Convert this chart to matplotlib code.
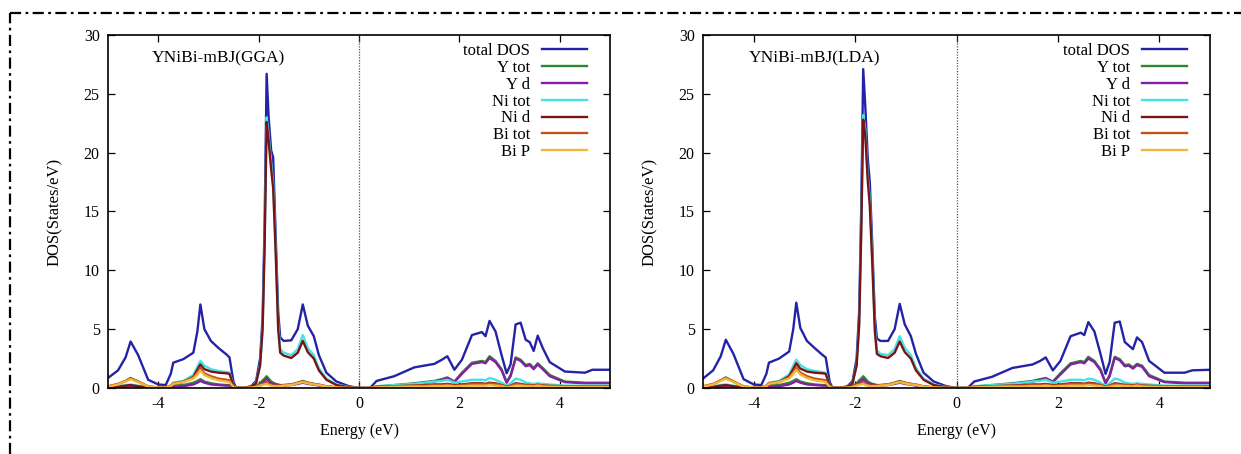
import numpy as np
import matplotlib.pyplot as plt
from matplotlib.lines import Line2D

plt.rcParams['font.family'] = ['Liberation Serif', 'DejaVu Serif']
plt.rcParams['axes.unicode_minus'] = False

# energy grid shared by every curve (eV, Fermi level at 0)
energy = [-5.00, -4.80, -4.65, -4.55, -4.40, -4.20, -4.00, -3.85, -3.75, -3.70,
          -3.50, -3.30, -3.22, -3.16, -3.08, -2.95, -2.80, -2.64, -2.58, -2.50,
          -2.45, -2.30, -2.15, -2.05, -1.97, -1.92, -1.88, -1.84, -1.80, -1.75,
          -1.71, -1.66, -1.61, -1.57, -1.50, -1.35, -1.22, -1.12, -1.02, -0.90,
          -0.80, -0.65, -0.45, -0.20, 0.00, 0.22, 0.35, 0.70, 1.10, 1.30,
          1.50, 1.65, 1.76, 1.90, 2.05, 2.25, 2.45, 2.52, 2.60, 2.72,
          2.84, 2.94, 3.02, 3.12, 3.22, 3.32, 3.40, 3.48, 3.56, 3.66,
          3.80, 4.10, 4.50, 4.65, 5.00]

# ---- mBJ(GGA) ----
gga_total = [0.85, 1.5, 2.6, 3.95, 2.8, 0.7, 0.3, 0.25, 1.2, 2.15,
             2.45, 3.0, 4.8, 7.1, 5.0, 4.0, 3.4, 2.85, 2.6, 0.5,
             0.05, 0.0, 0.15, 0.6, 2.5, 6.0, 14.0, 26.7, 23.0, 20.2,
             19.6, 13.0, 6.5, 4.3, 4.0, 4.05, 5.0, 7.1, 5.3, 4.4,
             2.8, 1.3, 0.55, 0.15, 0.0, 0.0, 0.6, 1.0, 1.75, 1.9,
             2.05, 2.4, 2.7, 1.55, 2.4, 4.5, 4.75, 4.4, 5.7, 4.8,
             2.8, 1.25, 2.0, 5.4, 5.55, 4.1, 3.9, 3.15, 4.45, 3.4,
             2.2, 1.4, 1.3, 1.55, 1.55]
gga_y_tot = [0.1, 0.3, 0.6, 0.85, 0.55, 0.1, 0.03, 0.03, 0.1, 0.2,
             0.25, 0.45, 0.6, 0.75, 0.55, 0.4, 0.3, 0.25, 0.25, 0.05,
             0.02, 0.0, 0.05, 0.15, 0.4, 0.65, 0.8, 1.0, 0.8, 0.55,
             0.45, 0.35, 0.3, 0.25, 0.25, 0.3, 0.45, 0.6, 0.45, 0.35,
             0.25, 0.12, 0.05, 0.02, 0.0, 0.0, 0.12, 0.25, 0.4, 0.5,
             0.6, 0.75, 0.9, 0.55, 1.3, 2.15, 2.3, 2.2, 2.7, 2.3,
             1.6, 0.5, 1.1, 2.6, 2.4, 1.95, 2.05, 1.7, 2.1, 1.7,
             1.1, 0.55, 0.45, 0.45, 0.45]
gga_y_d = [0.02, 0.05, 0.1, 0.15, 0.1, 0.02, 0.01, 0.01, 0.05, 0.1,
           0.15, 0.3, 0.45, 0.6, 0.45, 0.3, 0.25, 0.2, 0.2, 0.05,
           0.01, 0.0, 0.03, 0.1, 0.3, 0.45, 0.6, 0.8, 0.6, 0.4,
           0.35, 0.3, 0.25, 0.2, 0.2, 0.25, 0.35, 0.45, 0.35, 0.28,
           0.2, 0.1, 0.05, 0.01, 0.0, 0.0, 0.1, 0.2, 0.35, 0.45,
           0.55, 0.7, 0.85, 0.5, 1.2, 2.05, 2.2, 2.1, 2.55, 2.2,
           1.5, 0.45, 1.0, 2.5, 2.3, 1.85, 1.95, 1.6, 2.0, 1.6,
           1.0, 0.5, 0.4, 0.4, 0.4]
gga_ni_tot = [0.1, 0.15, 0.25, 0.3, 0.2, 0.05, 0.02, 0.02, 0.2, 0.45,
              0.6, 1.1, 1.8, 2.3, 1.9, 1.6, 1.45, 1.35, 1.3, 0.25,
              0.02, 0.0, 0.1, 0.45, 2.0, 5.2, 12.5, 23.0, 21.5, 19.0,
              17.5, 12.0, 5.5, 3.3, 3.0, 2.8, 3.3, 4.5, 3.4, 2.8,
              1.7, 0.8, 0.3, 0.08, 0.0, 0.0, 0.15, 0.25, 0.35, 0.45,
              0.55, 0.6, 0.7, 0.45, 0.55, 0.7, 0.7, 0.65, 0.85, 0.7,
              0.45, 0.2, 0.4, 0.8, 0.7, 0.45, 0.4, 0.35, 0.4, 0.35,
              0.3, 0.2, 0.2, 0.2, 0.2]
gga_ni_d = [0.05, 0.1, 0.2, 0.25, 0.15, 0.03, 0.01, 0.01, 0.1, 0.35,
            0.5, 0.95, 1.55, 2.0, 1.6, 1.4, 1.3, 1.25, 1.2, 0.2,
            0.02, 0.0, 0.1, 0.4, 1.9, 5.0, 12.0, 22.6, 21.0, 18.6,
            17.0, 11.5, 5.0, 3.0, 2.75, 2.55, 3.0, 4.0, 3.05, 2.5,
            1.5, 0.7, 0.25, 0.06, 0.0, 0.0, 0.1, 0.15, 0.2, 0.25,
            0.3, 0.3, 0.35, 0.25, 0.3, 0.4, 0.4, 0.35, 0.45, 0.4,
            0.25, 0.1, 0.2, 0.4, 0.35, 0.25, 0.25, 0.2, 0.25, 0.2,
            0.15, 0.1, 0.1, 0.1, 0.1]
gga_bi_tot = [0.15, 0.35, 0.6, 0.8, 0.55, 0.15, 0.05, 0.05, 0.2, 0.4,
              0.55, 0.9, 1.3, 1.7, 1.25, 1.0, 0.8, 0.7, 0.65, 0.1,
              0.02, 0.0, 0.05, 0.1, 0.25, 0.35, 0.4, 0.5, 0.35, 0.25,
              0.2, 0.2, 0.2, 0.2, 0.25, 0.3, 0.45, 0.55, 0.45, 0.35,
              0.3, 0.15, 0.06, 0.02, 0.0, 0.0, 0.1, 0.15, 0.2, 0.2,
              0.25, 0.25, 0.3, 0.2, 0.25, 0.35, 0.35, 0.3, 0.4, 0.35,
              0.25, 0.1, 0.2, 0.35, 0.3, 0.25, 0.25, 0.2, 0.3, 0.2,
              0.2, 0.15, 0.15, 0.15, 0.15]
gga_bi_p = [0.1, 0.3, 0.55, 0.75, 0.5, 0.12, 0.04, 0.04, 0.15, 0.35,
            0.5, 0.8, 1.15, 1.5, 1.1, 0.85, 0.65, 0.55, 0.5, 0.08,
            0.01, 0.0, 0.03, 0.08, 0.2, 0.25, 0.3, 0.35, 0.25, 0.2,
            0.15, 0.15, 0.15, 0.15, 0.2, 0.25, 0.4, 0.5, 0.4, 0.3,
            0.25, 0.12, 0.05, 0.01, 0.0, 0.0, 0.05, 0.1, 0.12, 0.12,
            0.15, 0.15, 0.2, 0.12, 0.15, 0.2, 0.2, 0.2, 0.25, 0.2,
            0.15, 0.05, 0.1, 0.2, 0.2, 0.15, 0.15, 0.12, 0.2, 0.12,
            0.1, 0.08, 0.08, 0.08, 0.08]

# ---- mBJ(LDA) ----
lda_total = [0.8, 1.5, 2.7, 4.1, 2.9, 0.75, 0.3, 0.25, 1.2, 2.15,
             2.5, 3.1, 5.0, 7.25, 5.1, 4.0, 3.4, 2.8, 2.6, 0.5,
             0.05, 0.0, 0.15, 0.6, 2.5, 6.5, 15.0, 27.1, 24.0, 19.5,
             17.5, 12.0, 6.0, 4.2, 4.0, 4.0, 5.0, 7.15, 5.4, 4.4,
             2.9, 1.3, 0.55, 0.15, 0.0, 0.0, 0.55, 0.95, 1.7, 1.85,
             2.0, 2.3, 2.6, 1.5, 2.3, 4.4, 4.7, 4.5, 5.6, 4.8,
             2.9, 1.2, 2.2, 5.55, 5.65, 3.9, 3.6, 3.3, 4.3, 3.9,
             2.3, 1.3, 1.3, 1.5, 1.55]
lda_y_tot = [0.1, 0.3, 0.65, 0.9, 0.55, 0.1, 0.03, 0.03, 0.1, 0.2,
             0.25, 0.45, 0.6, 0.75, 0.55, 0.4, 0.3, 0.25, 0.25, 0.05,
             0.02, 0.0, 0.05, 0.15, 0.4, 0.65, 0.8, 1.0, 0.8, 0.55,
             0.45, 0.35, 0.3, 0.25, 0.25, 0.3, 0.45, 0.6, 0.45, 0.35,
             0.25, 0.12, 0.05, 0.02, 0.0, 0.0, 0.12, 0.25, 0.4, 0.5,
             0.6, 0.75, 0.85, 0.55, 1.25, 2.1, 2.3, 2.2, 2.65, 2.3,
             1.6, 0.45, 1.1, 2.65, 2.45, 1.95, 2.0, 1.75, 2.05, 1.9,
             1.1, 0.55, 0.45, 0.45, 0.45]
lda_y_d = [0.02, 0.05, 0.1, 0.15, 0.1, 0.02, 0.01, 0.01, 0.05, 0.1,
           0.15, 0.3, 0.45, 0.6, 0.45, 0.3, 0.25, 0.2, 0.2, 0.05,
           0.01, 0.0, 0.03, 0.1, 0.3, 0.45, 0.6, 0.75, 0.6, 0.4,
           0.35, 0.3, 0.25, 0.2, 0.2, 0.25, 0.35, 0.45, 0.35, 0.28,
           0.2, 0.1, 0.05, 0.01, 0.0, 0.0, 0.1, 0.2, 0.35, 0.45,
           0.55, 0.7, 0.8, 0.5, 1.15, 2.0, 2.2, 2.1, 2.5, 2.2,
           1.5, 0.4, 1.0, 2.55, 2.35, 1.85, 1.9, 1.65, 1.95, 1.8,
           1.0, 0.5, 0.4, 0.4, 0.4]
lda_ni_tot = [0.1, 0.15, 0.25, 0.3, 0.2, 0.05, 0.02, 0.02, 0.2, 0.45,
              0.6, 1.15, 1.9, 2.4, 1.95, 1.6, 1.45, 1.35, 1.3, 0.25,
              0.02, 0.0, 0.1, 0.45, 2.0, 5.5, 13.5, 23.2, 22.0, 18.0,
              16.0, 11.0, 5.2, 3.2, 2.9, 2.8, 3.3, 4.4, 3.4, 2.8,
              1.7, 0.8, 0.3, 0.08, 0.0, 0.0, 0.15, 0.25, 0.35, 0.45,
              0.55, 0.6, 0.7, 0.45, 0.55, 0.7, 0.7, 0.65, 0.8, 0.7,
              0.45, 0.2, 0.4, 0.8, 0.7, 0.45, 0.4, 0.35, 0.4, 0.35,
              0.3, 0.2, 0.2, 0.2, 0.2]
lda_ni_d = [0.05, 0.1, 0.2, 0.25, 0.15, 0.03, 0.01, 0.01, 0.1, 0.35,
            0.5, 1.0, 1.6, 2.1, 1.65, 1.4, 1.3, 1.25, 1.2, 0.2,
            0.02, 0.0, 0.1, 0.4, 1.9, 5.3, 13.0, 22.8, 21.5, 17.6,
            15.5, 10.5, 4.8, 2.9, 2.7, 2.55, 3.0, 3.95, 3.05, 2.5,
            1.5, 0.7, 0.25, 0.06, 0.0, 0.0, 0.1, 0.15, 0.2, 0.25,
            0.3, 0.3, 0.35, 0.25, 0.3, 0.4, 0.4, 0.35, 0.45, 0.4,
            0.25, 0.1, 0.2, 0.4, 0.35, 0.25, 0.25, 0.2, 0.25, 0.2,
            0.15, 0.1, 0.1, 0.1, 0.1]
lda_bi_tot = [0.15, 0.35, 0.65, 0.85, 0.55, 0.15, 0.05, 0.05, 0.2, 0.4,
              0.55, 0.9, 1.35, 1.75, 1.3, 1.0, 0.8, 0.7, 0.65, 0.1,
              0.02, 0.0, 0.05, 0.1, 0.25, 0.35, 0.4, 0.5, 0.35, 0.25,
              0.2, 0.2, 0.2, 0.2, 0.25, 0.3, 0.45, 0.55, 0.45, 0.35,
              0.3, 0.15, 0.06, 0.02, 0.0, 0.0, 0.1, 0.15, 0.2, 0.2,
              0.25, 0.25, 0.3, 0.2, 0.25, 0.35, 0.35, 0.3, 0.4, 0.35,
              0.25, 0.1, 0.2, 0.35, 0.3, 0.25, 0.25, 0.2, 0.3, 0.2,
              0.2, 0.15, 0.15, 0.15, 0.15]
lda_bi_p = [0.1, 0.3, 0.6, 0.8, 0.5, 0.12, 0.04, 0.04, 0.15, 0.35,
            0.5, 0.8, 1.2, 1.55, 1.15, 0.85, 0.65, 0.55, 0.5, 0.08,
            0.01, 0.0, 0.03, 0.08, 0.2, 0.25, 0.3, 0.35, 0.25, 0.2,
            0.15, 0.15, 0.15, 0.15, 0.2, 0.25, 0.4, 0.5, 0.4, 0.3,
            0.25, 0.12, 0.05, 0.01, 0.0, 0.0, 0.05, 0.1, 0.12, 0.12,
            0.15, 0.15, 0.2, 0.12, 0.15, 0.2, 0.2, 0.2, 0.25, 0.2,
            0.15, 0.05, 0.1, 0.2, 0.2, 0.15, 0.15, 0.12, 0.2, 0.12,
            0.1, 0.08, 0.08, 0.08, 0.08]

labels = ['total DOS', 'Y tot', 'Y d', 'Ni tot', 'Ni d', 'Bi tot', 'Bi P']
colors = ['#2323a8', '#2e862e', '#8420a6', '#45e3e3', '#7a1414', '#c2521c', '#f2b83a']


def draw_panel(ax, title, curves):
    for vals, lab, col in zip(curves, labels, colors):
        ax.plot(energy, vals, color=col, lw=1.7, label=lab)
    ax.axvline(0, color='#555555', lw=0.9, ls=(0, (1, 1.2)))
    ax.set_xlim(-5, 5)
    ax.set_ylim(0, 30)
    ax.set_xticks([-4, -2, 0, 2, 4])
    ax.set_yticks([0, 5, 10, 15, 20, 25, 30])
    ax.tick_params(direction='in', top=True, right=True, length=5, width=0.9,
                   labelsize=11.5, pad=6)
    for s in ax.spines.values():
        s.set_linewidth(1.2)
    ax.set_xlabel('Energy (eV)', fontsize=11.5, labelpad=8)
    ax.set_ylabel('DOS(States/eV)', fontsize=12, labelpad=15)
    ax.text(0.22, 0.935, title, transform=ax.transAxes, ha='center', va='center',
            fontsize=12.5)
    ax.legend(loc='upper right', bbox_to_anchor=(0.977, 1.01), frameon=False,
              markerfirst=False, fontsize=12, handlelength=2.7,
              handletextpad=0.7, labelspacing=0.05, borderaxespad=0.3)


fig = plt.figure(figsize=(12.41, 4.54), dpi=100)
ax1 = fig.add_axes([108 / 1241, 1 - 388 / 454, 502 / 1241, 353 / 454])
ax2 = fig.add_axes([703 / 1241, 1 - 388 / 454, 507 / 1241, 353 / 454])

draw_panel(ax1, 'YNiBi-mBJ(GGA)',
           [gga_total, gga_y_tot, gga_y_d, gga_ni_tot, gga_ni_d, gga_bi_tot, gga_bi_p])
draw_panel(ax2, 'YNiBi-mBJ(LDA)',
           [lda_total, lda_y_tot, lda_y_d, lda_ni_tot, lda_ni_d, lda_bi_tot, lda_bi_p])

# dash-dot frame along the top and left edge
frame = dict(color='black', lw=1.6, ls=(0, (5, 2, 1.2, 2)))
fig.add_artist(Line2D([9.5 / 1241, 1.0], [1 - 12.5 / 454, 1 - 12.5 / 454], **frame))
fig.add_artist(Line2D([9.5 / 1241, 9.5 / 1241], [0.0, 1 - 12.5 / 454], **frame))

fig.savefig('out.png', dpi=100)
